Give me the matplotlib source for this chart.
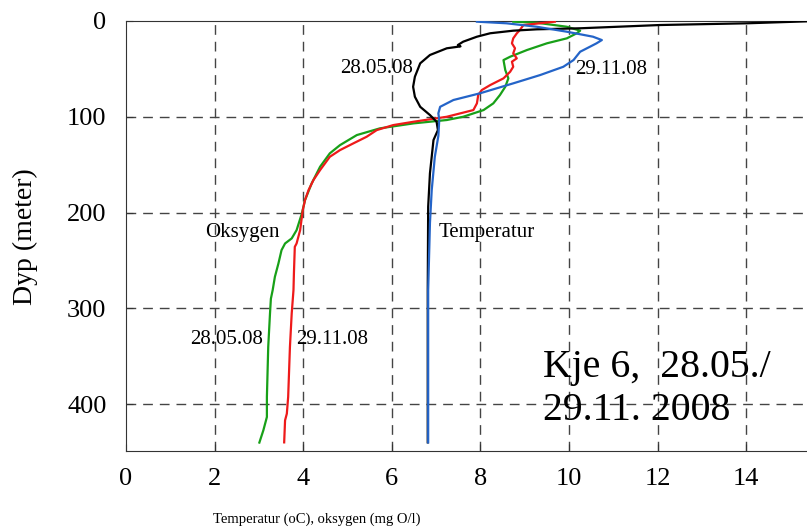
import matplotlib.pyplot as plt

plt.rcParams['font.family'] = ['Liberation Serif', 'DejaVu Serif']

# temperatur 28.05.08 (svart)
temp_mai_x = [15.6, 14.01, 12.05, 10.25, 9.27, 8.74, 8.22, 7.92, 7.61, 7.49, 7.55, 7.24, 6.86, 6.64,
              6.52, 6.48, 6.52, 6.64, 6.86, 7.01, 7.04, 6.94, 6.86, 6.82, 6.81, 6.81]
temp_mai_d = [0, 2.4, 4.2, 7.6, 8.7, 10.1, 12.8, 16.4, 21.6, 25.1, 26.5, 28.5, 35.5, 44.2,
              58.2, 68.7, 79.1, 89.6, 98.2, 105.2, 113.9, 124.3, 159, 194, 281, 440]

# temperatur 29.11.08 (blaa)
temp_nov_x = [7.92, 8.59, 9.27, 9.95, 10.54, 10.74, 10.62, 10.47, 10.25, 10.10, 9.87, 9.35, 8.74,
              7.99, 7.39, 7.09, 7.05, 7.07, 7.05, 6.97, 6.90, 6.86, 6.82, 6.82]
temp_nov_d = [0.7, 2.4, 6, 11.2, 16.4, 19.9, 23.3, 26.9, 32.1, 40.8, 47.8, 56.4, 65.1,
              75.5, 82.5, 89.6, 96.4, 103.4, 120, 141.8, 176.6, 211, 281, 440]

# oksygen 29.11.08 (roed)
oks_nov_x = [9.68, 8.97, 8.89, 8.82, 8.74, 8.71, 8.78, 8.74, 8.82, 8.71, 8.74, 8.67, 8.52, 8.22,
             8.03, 7.95, 7.92, 7.84, 7.24, 6.49, 6.03, 5.66, 5.43, 5.13, 4.83, 4.60, 4.38, 4.23,
             4.12, 4.04, 3.99, 3.93, 3.85, 3.81, 3.79, 3.78, 3.74, 3.70, 3.66, 3.63, 3.59, 3.57]
oks_nov_d = [0.7, 4.2, 9.4, 12.9, 18.1, 23.3, 28.5, 33.8, 39, 42.5, 47.8, 53, 59.9, 66.9,
             72.1, 77.3, 86, 93, 100, 105.2, 108.7, 113.9, 120.9, 127.8, 134.8, 141.8, 155.7, 166.1,
             176.6, 187, 197.5, 218.4, 232.3, 235.8, 263.3, 281, 305.4, 340.3, 392.6, 410, 417, 440]

# oksygen 28.05.08 (groenn)
oks_mai_x = [8.74, 9.27, 9.95, 10.25, 10.17, 9.95, 9.50, 9.05, 8.67, 8.52, 8.56, 8.63, 8.56, 8.44,
             8.29, 8.07, 7.61, 7.24, 6.49, 5.73, 5.21, 4.83, 4.60, 4.38, 4.19, 4.04, 3.97, 3.85,
             3.74, 3.59, 3.51, 3.44, 3.36, 3.31, 3.27, 3.25, 3.21, 3.18, 3.18, 3.10, 3.01]
oks_mai_d = [0.7, 1.8, 6.0, 10.1, 12.9, 18.1, 23.3, 30.3, 37.3, 40.8, 51.2, 59.9, 68.7, 77.3,
             86, 93, 100, 103.4, 106.9, 112.1, 119.1, 129.6, 138.2, 152.2, 169.6, 187, 200.9, 218.4,
             227, 232.3, 239.3, 253.2, 267.2, 281.1, 290, 305.4, 340.3, 392.6, 413.5, 427.4, 440.2]

x_ticks = [0, 2, 4, 6, 8, 10, 12, 14]
y_ticks = [0, 100, 200, 300, 400]

fig = plt.figure(figsize=(8.07, 5.28), dpi=100)
ax = fig.add_axes([126 / 807, 77 / 528, 681 / 807, 430 / 528])

# rutenett
for xv in x_ticks[1:]:
    ax.axvline(xv, color='#444444', lw=1.0, ls=(0, (7, 5)), zorder=1)
for yv in y_ticks[1:]:
    ax.axhline(yv, color='#444444', lw=1.0, ls=(0, (7, 5)), zorder=1)

ax.plot(oks_mai_x, oks_mai_d, color='#18a018', lw=1.6, zorder=3)
ax.plot(oks_nov_x, oks_nov_d, color='#ee1a1a', lw=1.6, zorder=3)
ax.plot(temp_mai_x, temp_mai_d, color='black', lw=1.6, zorder=3)
ax.plot(temp_nov_x, temp_nov_d, color='#2464c8', lw=1.6, zorder=4)

ax.set_xlim(0, 15.37)
ax.set_ylim(449, 0)
ax.set_xticks(x_ticks)
ax.set_yticks(y_ticks)
ax.tick_params(direction='in', length=5, labelsize=19, color='#333333')
ax.tick_params(axis='x', pad=12)
ax.tick_params(axis='y', pad=14)
ax.spines['right'].set_visible(False)
for s in ['left', 'bottom', 'top']:
    ax.spines[s].set_color('#333333')

ax.set_xlabel('Temperatur (oC), oksygen (mg O/l)', fontsize=10.5)
ax.xaxis.set_label_coords(0.2805, -0.144)
ax.set_ylabel('Dyp (meter)', fontsize=20)
ax.yaxis.set_label_coords(-0.129, 0.498)

# tekster i figuren
lab = dict(fontsize=15, va='center', ha='left', zorder=5)
ax.text(4.83, 50, '28.05.08', **lab)
ax.text(10.14, 51, '29.11.08', **lab)
ax.text(1.78, 221, 'Oksygen', **lab)
ax.text(7.05, 221, 'Temperatur', **lab)
ax.text(1.44, 333, '28.05.08', **lab)
ax.text(3.85, 333, '29.11.08', **lab)
ax.text(9.41, 372, 'Kje 6,  28.05./', fontsize=28.6, va='baseline', ha='left')
ax.text(9.41, 417, '29.11. 2008', fontsize=28.6, va='baseline', ha='left')

fig.savefig('out.png', dpi=100)
